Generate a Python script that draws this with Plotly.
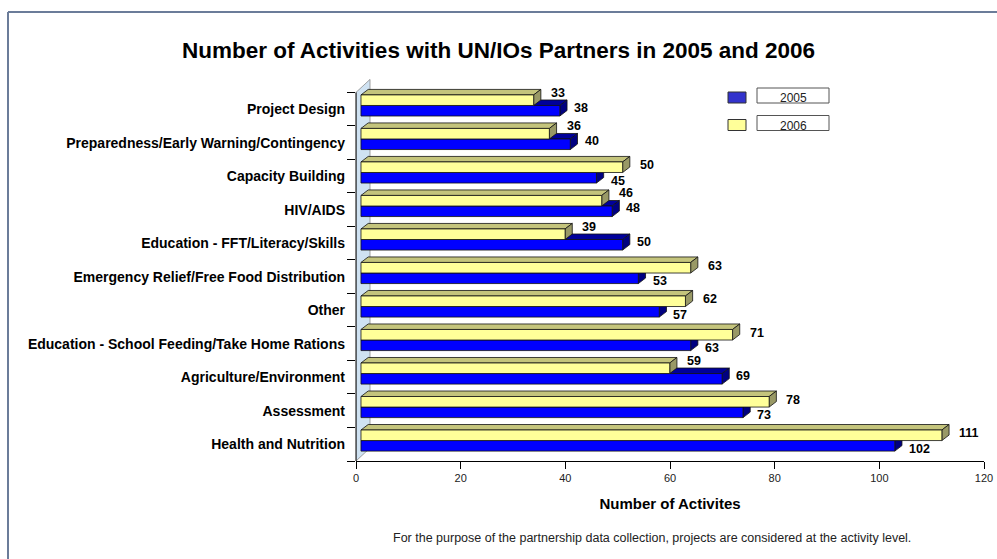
import plotly.graph_objects as go

# ---------------- data ----------------
categories = [
    "Project Design",
    "Preparedness/Early Warning/Contingency",
    "Capacity Building",
    "HIV/AIDS",
    "Education - FFT/Literacy/Skills",
    "Emergency Relief/Free Food Distribution",
    "Other",
    "Education - School Feeding/Take Home Rations",
    "Agriculture/Environment",
    "Assessment",
    "Health and Nutrition",
]
values_2005 = [38, 40, 45, 48, 50, 53, 57, 63, 69, 73, 102]
values_2006 = [33, 36, 50, 46, 39, 63, 62, 71, 59, 78, 111]
series_names = ["2005", "2006"]
x_ticks = [0, 20, 40, 60, 80, 100, 120]

# ---------------- style / layout constants ----------------
W, H = 997, 559
L, R, T, B = 356, 13, 79, 98
PW, PH = W - L - R, H - T - B
XMAX = 120
YMIN, YMAX = -0.5, 10.9
PX_X = PW / XMAX                 # px per x unit
PX_Y = PH / (YMAX - YMIN)        # px per y unit

FONT = "Liberation Sans, Arial, Helvetica, sans-serif"
X0 = 0.95                        # 3D front-face start
DX = 7.2 / PX_X                  # depth offset in x units
DY = 5.5 / PX_Y                  # depth offset in y units
BAR_W = 0.315
OFF_2005, OFF_2006 = -0.205, 0.11
WALL_DX, WALL_DY = 14 / PX_X, 13 / PX_Y

C_2005 = dict(front="#0000FF", top="#00009A", side="#000080")
C_2006 = dict(front="#FFFF99", top="#C4C47C", side="#999966")
LEG_2005 = "#3333CC"
EDGE = "#111111"

n = len(categories)
pos = [n - 1 - i for i in range(n)]


def px2paper(px, py):
    return (px - L) / PW, (H - B - py) / PH


fig = go.Figure()

shapes = []
# side wall
shapes.append(dict(
    type="path", xref="x", yref="y", layer="below",
    path=f"M 0,-0.5 L 0,10.5 L {WALL_DX},{10.5 + WALL_DY} L {WALL_DX},{-0.5 + WALL_DY} Z",
    fillcolor="#CFE2F2", line=dict(color="#8A8A8A", width=0.8),
))


def faces(v, y_lo, colors):
    y_hi = y_lo + BAR_W
    xl, xh = X0, X0 + v
    top = dict(type="path", xref="x", yref="y", layer="below",
               path=f"M {xl},{y_hi} L {xh},{y_hi} L {xh + DX},{y_hi + DY} L {xl + DX},{y_hi + DY} Z",
               fillcolor=colors["top"], line=dict(color=EDGE, width=0.8))
    side = dict(type="path", xref="x", yref="y", layer="below",
                path=f"M {xh},{y_lo} L {xh + DX},{y_lo + DY} L {xh + DX},{y_hi + DY} L {xh},{y_hi} Z",
                fillcolor=colors["side"], line=dict(color=EDGE, width=0.8))
    return [top, side]


for i in range(n):
    shapes += faces(values_2005[i], pos[i] + OFF_2005, C_2005)
    shapes += faces(values_2006[i], pos[i] + OFF_2006, C_2006)

# y axis line
shapes.append(dict(type="line", xref="paper", yref="y", x0=0, x1=0, y0=-0.5, y1=10.5,
                   line=dict(color="black", width=1), layer="above"))

# bars (front faces)
fig.add_trace(go.Bar(
    name=series_names[0], orientation="h", y=pos, x=values_2005, base=X0,
    width=BAR_W, offset=OFF_2005,
    marker=dict(color=C_2005["front"], line=dict(color=EDGE, width=0.8)),
    showlegend=False,
))
fig.add_trace(go.Bar(
    name=series_names[1], orientation="h", y=pos, x=values_2006, base=X0,
    width=BAR_W, offset=OFF_2006,
    marker=dict(color=C_2006["front"], line=dict(color=EDGE, width=0.8)),
    showlegend=False,
))

annotations = []
lab_font = dict(family=FONT, size=12.5, color="black", weight="bold")
for i in range(n):
    v5, v6 = values_2005[i], values_2006[i]
    blue_high = v5 >= v6
    ys6 = 16.5 if blue_high else 11
    ys5 = 1.5 if blue_high else -4.5
    annotations.append(dict(x=X0 + v6 + DX, y=pos[i], xref="x", yref="y", text=str(v6),
                            showarrow=False, xanchor="left", yanchor="middle",
                            xshift=8, yshift=ys6, font=lab_font))
    annotations.append(dict(x=X0 + v5 + DX, y=pos[i], xref="x", yref="y", text=str(v5),
                            showarrow=False, xanchor="left", yanchor="middle",
                            xshift=5, yshift=ys5, font=lab_font))

# custom legend
leg = [(series_names[0], LEG_2005, 92, 88),
       (series_names[1], C_2006["front"], 119.5, 115.5)]
for name, col, sy, by in leg:
    x0p, y0p = px2paper(728, sy)
    x1p, y1p = px2paper(746, sy + 11)
    shapes.append(dict(type="rect", xref="paper", yref="paper", x0=x0p, x1=x1p, y0=y1p, y1=y0p,
                       fillcolor=col, line=dict(color="#333333", width=1)))
    bx0, by0 = px2paper(757, by)
    bx1, by1 = px2paper(829, by + 15)
    shapes.append(dict(type="rect", xref="paper", yref="paper", x0=bx0, x1=bx1, y0=by1, y1=by0,
                       fillcolor="white", line=dict(color="#555555", width=1)))
    tx, ty = px2paper(793, by + 10)
    annotations.append(dict(x=tx, y=ty, xref="paper", yref="paper", text=name, showarrow=False,
                            xanchor="center", yanchor="middle",
                            font=dict(family=FONT, size=12, color="#222222")))

# footnote
fx, fy = px2paper(652, 538)
annotations.append(dict(x=fx, y=fy, xref="paper", yref="paper", showarrow=False,
                        xanchor="center", yanchor="middle",
                        text="For the purpose of the partnership data collection, projects are considered at the activity level.",
                        font=dict(family=FONT, size=12.5, color="#222222")))

# outer frame (top and left edges visible)
bx, by_ = px2paper(8, 12)
shapes.append(dict(type="line", xref="paper", yref="paper", x0=bx, x1=px2paper(W + 5, 0)[0],
                   y0=by_, y1=by_, line=dict(color="#6B7C99", width=2)))
shapes.append(dict(type="line", xref="paper", yref="paper", x0=bx, x1=bx,
                   y0=by_, y1=px2paper(0, H + 5)[1], line=dict(color="#6B7C99", width=2)))

fig.update_layout(
    width=W, height=H, autosize=False,
    margin=dict(l=L, r=R, t=T, b=B, pad=0, autoexpand=False),
    paper_bgcolor="white", plot_bgcolor="rgba(0,0,0,0)",
    barmode="overlay",
    font=dict(family=FONT, color="black"),
    title=dict(text="Number of Activities with UN/IOs Partners in 2005 and 2006",
               x=0.5, xref="container", xanchor="center",
               y=1 - 50 / H, yref="container", yanchor="middle",
               font=dict(family=FONT, size=22.5, color="black", weight="bold")),
    shapes=shapes,
    annotations=annotations,
    showlegend=False,
)
fig.update_xaxes(
    range=[0, XMAX], tickvals=x_ticks, ticks="outside", ticklen=7, tickcolor="black",
    showline=True, linecolor="black", linewidth=1, showgrid=False, zeroline=False,
    automargin=False,
    tickfont=dict(family=FONT, size=11, color="#222222"),
    title=dict(text="Number of Activites", standoff=15,
               font=dict(family=FONT, size=15, color="black", weight="bold")),
)
fig.update_yaxes(
    range=[YMIN, YMAX], tickvals=pos, ticktext=categories, ticks="",
    showline=False, showgrid=False, zeroline=False, ticklabelstandoff=10,
    automargin=False,
    tickfont=dict(family=FONT, size=14, color="black", weight="bold"),
    minor=dict(tickvals=[k - 0.5 for k in range(n + 1)], ticks="outside", ticklen=8,
               tickcolor="black", showgrid=False),
)

fig.write_html("out.html")
